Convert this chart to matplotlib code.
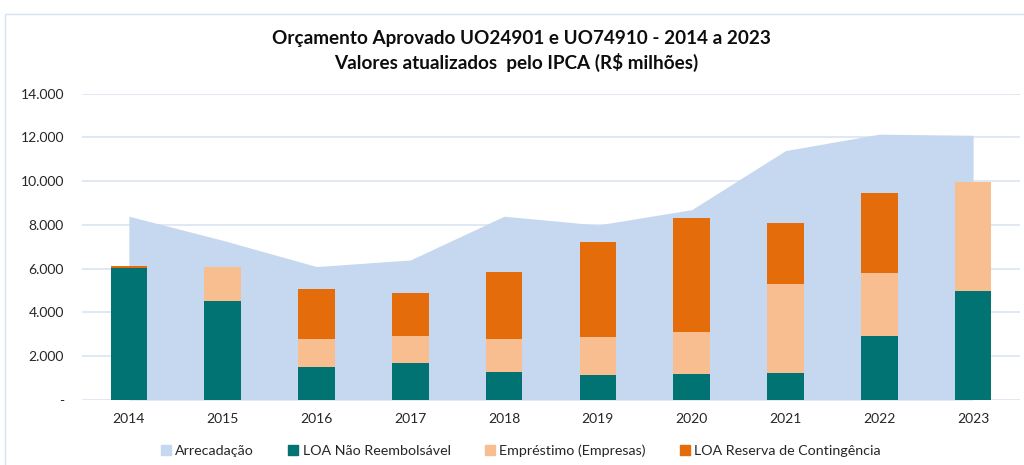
import matplotlib
matplotlib.use("Agg")
import matplotlib.pyplot as plt
from matplotlib.patches import Rectangle, Patch
import numpy as np

plt.rcParams['font.family'] = ['Lato', 'DejaVu Sans']

years = ['2014', '2015', '2016', '2017', '2018', '2019', '2020', '2021', '2022', '2023']
arrecadacao = [8400, 7300, 6100, 6400, 8400, 8000, 8700, 11400, 12150, 12100]
loa_nao_reemb = [6050, 4540, 1490, 1700, 1260, 1140, 1190, 1230, 2940, 4980]
emprestimo = [0, 1520, 1310, 1220, 1540, 1750, 1930, 4070, 2860, 4990]
loa_reserva = [60, 0, 2270, 1970, 3030, 4310, 5220, 2810, 3650, 0]
yticks = [0, 2000, 4000, 6000, 8000, 10000, 12000, 14000]
ytick_labels = ['-', '2.000', '4.000', '6.000', '8.000', '10.000', '12.000', '14.000']

c_area = '#C5D8EF'
c_teal = '#017373'
c_salmon = '#F9BE8F'
c_orange = '#E46C0A'

W, H = 1024, 465
fig = plt.figure(figsize=(W / 100, H / 100), dpi=100)
ax = fig.add_axes([82 / W, 1 - 400 / H, (1020 - 82) / W, (400 - 93.7) / H])

x = np.arange(len(years))
ax.fill_between(x, 0, arrecadacao, color=c_area, linewidth=0, zorder=1)
bw = 0.39
ax.bar(x, loa_nao_reemb, bw, color=c_teal, zorder=3)
b1 = np.array(loa_nao_reemb)
ax.bar(x, emprestimo, bw, bottom=b1, color=c_salmon, zorder=3)
b2 = b1 + np.array(emprestimo)
ax.bar(x, loa_reserva, bw, bottom=b2, color=c_orange, zorder=3)

ax.set_xlim(-0.5, 9.5)
ax.set_ylim(0, 14000)
ax.set_yticks(yticks)
ax.set_yticklabels(ytick_labels)
ax.set_xticks(x)
ax.set_xticklabels(years)
ax.yaxis.grid(True, color='#DCE6F2', linewidth=1.3, zorder=0)
ax.set_axisbelow(True)
for s in ax.spines.values():
    s.set_visible(False)
ax.tick_params(axis='both', length=0, labelsize=10, colors='#262626')
ax.tick_params(axis='y', pad=13)
ax.tick_params(axis='x', pad=9)
for lbl in ax.get_yticklabels():
    lbl.set_horizontalalignment('right')

fig.text(521 / W, 1 - 38 / H, 'Orçamento Aprovado UO24901 e UO74910 - 2014 a 2023',
         ha='center', va='center', fontsize=13.6, fontweight='bold', color='#0D0D0D')
fig.text(516 / W, 1 - 62 / H, 'Valores atualizados  pelo IPCA (R$ milhões)',
         ha='center', va='center', fontsize=13.6, fontweight='bold', color='#0D0D0D')

# chart border
fig.patches.append(Rectangle((4.5 / W, -0.1), 1.2, 1 - 14.5 / H + 0.1, transform=fig.transFigure,
                             fill=False, edgecolor='#D6E2F0', linewidth=1.0))

handles = [Patch(color=c_area, label='Arrecadação'),
           Patch(color=c_teal, label='LOA Não Reembolsável'),
           Patch(color=c_salmon, label='Empréstimo (Empresas)'),
           Patch(color=c_orange, label='LOA Reserva de Contingência')]
fig.legend(handles=handles, loc='center', bbox_to_anchor=(521 / W, 1 - 451 / H), ncol=4,
           frameon=False, fontsize=10.3, handlelength=0.7, handleheight=0.7,
           handletextpad=0.3, columnspacing=2.4, labelcolor='#262626')

fig.savefig('out.png', dpi=100)
